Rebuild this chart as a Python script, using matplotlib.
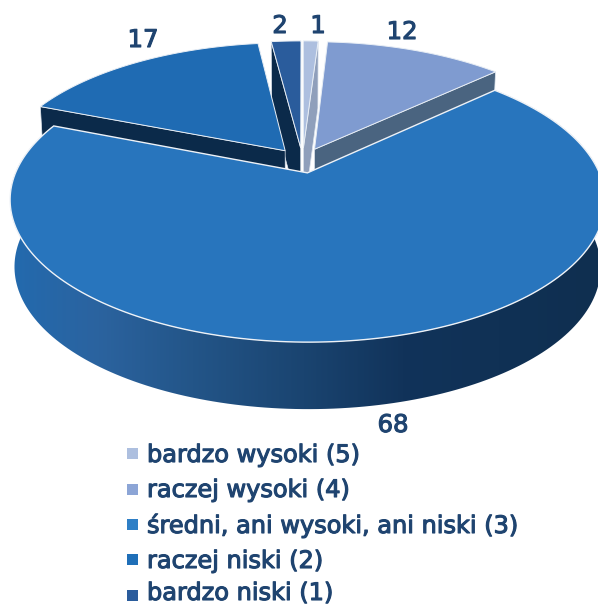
#!/usr/bin/env python3

import numpy as np
import matplotlib
matplotlib.use("Agg")
import matplotlib.pyplot as plt
import matplotlib.patheffects as pe
from matplotlib.colors import LinearSegmentedColormap
from matplotlib.patches import Polygon, Rectangle

# Data, clockwise from the top of the pie
labels = ["bardzo wysoki (5)", "raczej wysoki (4)", "średni, ani wysoki, ani niski (3)",
          "raczej niski (2)", "bardzo niski (1)"]
values = [1, 12, 68, 17, 2]

top_colors = ["#adbfdf", "#7f9bd0", "#2875bd", "#1f6bb3", "#2a5c9c"]
side_colors = ["#8f9fbb", "#4a6480", "#1a4470", "#0b2a4a", "#0b2a4a"]
legend_colors = ["#adbfdf", "#8ca5d6", "#2e7fc6", "#1f6fb8", "#2a5c9c"]
explode = [0.10, 0.10, 0.09, 0.10, 0.10]
text_color = "#1f4470"
bold = [pe.withStroke(linewidth=0.8, foreground=text_color)]

# Perspective of the pie, in pixels
cx, cy = 302.5, 161
a, b, k = 287, 132, 0.19
depth = 67

fig = plt.figure(figsize=(5.98, 6.06), dpi=100)
ax = fig.add_axes([0, 0, 1, 1])
ax.set_xlim(0, 598)
ax.set_ylim(606, 0)
ax.axis("off")


def project(u, v, bottom=False):
    w = 1 + k * v
    if bottom:
        return cx + 0.985 * a * u / w, cy - b * v / w + depth
    return cx + a * u / w, cy - b * v / w


def outline(start, stop, off, bottom=False):
    # Wedge outline, angles in degrees clockwise from the top
    t = np.radians(np.linspace(start, stop, 200))
    u = np.concatenate([[off[0]], off[0] + np.sin(t)])
    v = np.concatenate([[off[1]], off[1] + np.cos(t)])
    return np.column_stack(project(u, v, bottom))


def edge_side(angle, off):
    # Side wall along one radial edge of a slice
    t = np.radians(angle)
    u = np.array([off[0], off[0] + np.sin(t)])
    v = np.array([off[1], off[1] + np.cos(t)])
    top = np.column_stack(project(u, v))
    low = np.column_stack(project(u, v, True))
    return np.vstack([top, low[::-1]])


stops = np.cumsum([0] + values) * 3.6
slices = []
for i in range(len(values)):
    mid = np.radians((stops[i] + stops[i + 1]) / 2)
    off = (explode[i] * np.sin(mid), explode[i] * np.cos(mid))
    slices.append((stops[i], stops[i + 1], off))

# Side walls of the back slices first
for i, ang in [(0, stops[1]), (4, stops[4]), (1, stops[2]), (3, stops[3])]:
    ax.add_patch(Polygon(edge_side(ang, slices[i][2]), closed=True, fc=side_colors[i],
                         ec="#dfe6ef", lw=0.5, zorder=1))

# Top faces of the back slices
for i in [0, 4, 1, 3]:
    s = slices[i]
    ax.add_patch(Polygon(outline(s[0], s[1], s[2]), closed=True, fc=top_colors[i],
                         ec="#e8eef5", lw=0.7, zorder=2))

# Big slice: shaded rim, then its top face
s = slices[2]
rim_top = outline(s[0], s[1], s[2])[1:]
rim_low = outline(s[0], s[1], s[2], True)[1:]
rim = Polygon(np.vstack([rim_top, rim_low[::-1]]), closed=True, transform=ax.transData)
shade = LinearSegmentedColormap.from_list("rim", [
    (0.00, "#236aae"), (0.15, "#2b639f"), (0.31, "#235588"),
    (0.50, "#1a4470"), (0.67, "#11335a"), (1.00, "#0f2f50")])
im = ax.imshow(np.linspace(0, 1, 400).reshape(1, -1), cmap=shade, aspect="auto",
               extent=[10, 598, 420, 40], zorder=3)
im.set_clip_path(rim)
ax.set_xlim(0, 598)
ax.set_ylim(606, 0)
ax.add_patch(Polygon(outline(s[0], s[1], s[2]), closed=True, fc=top_colors[2],
                     ec="#eef2f7", lw=1.0, zorder=4))

# Value labels
value_pos = [(318, 33), (402, 39), (393, 432), (143, 47), (280, 33)]
for val, pos in zip(values, value_pos):
    ax.text(pos[0], pos[1], str(val), ha="center", va="baseline", fontsize=17.5,
            family="DejaVu Sans", color=text_color, zorder=5, path_effects=bold)

# Legend
legend_y = [453, 489, 524, 559, 595]
legend_base = [462, 497, 533, 568, 600]
for name, col, y, base in zip(labels, legend_colors, legend_y, legend_base):
    ax.add_patch(Rectangle((127, y - 5.5), 11, 11, fc=col, ec="none", zorder=5))
    ax.text(147, base, name, ha="left", va="baseline", fontsize=17.3,
            family="DejaVu Sans", color=text_color, zorder=5, path_effects=bold)

fig.savefig("out.png", dpi=100)
